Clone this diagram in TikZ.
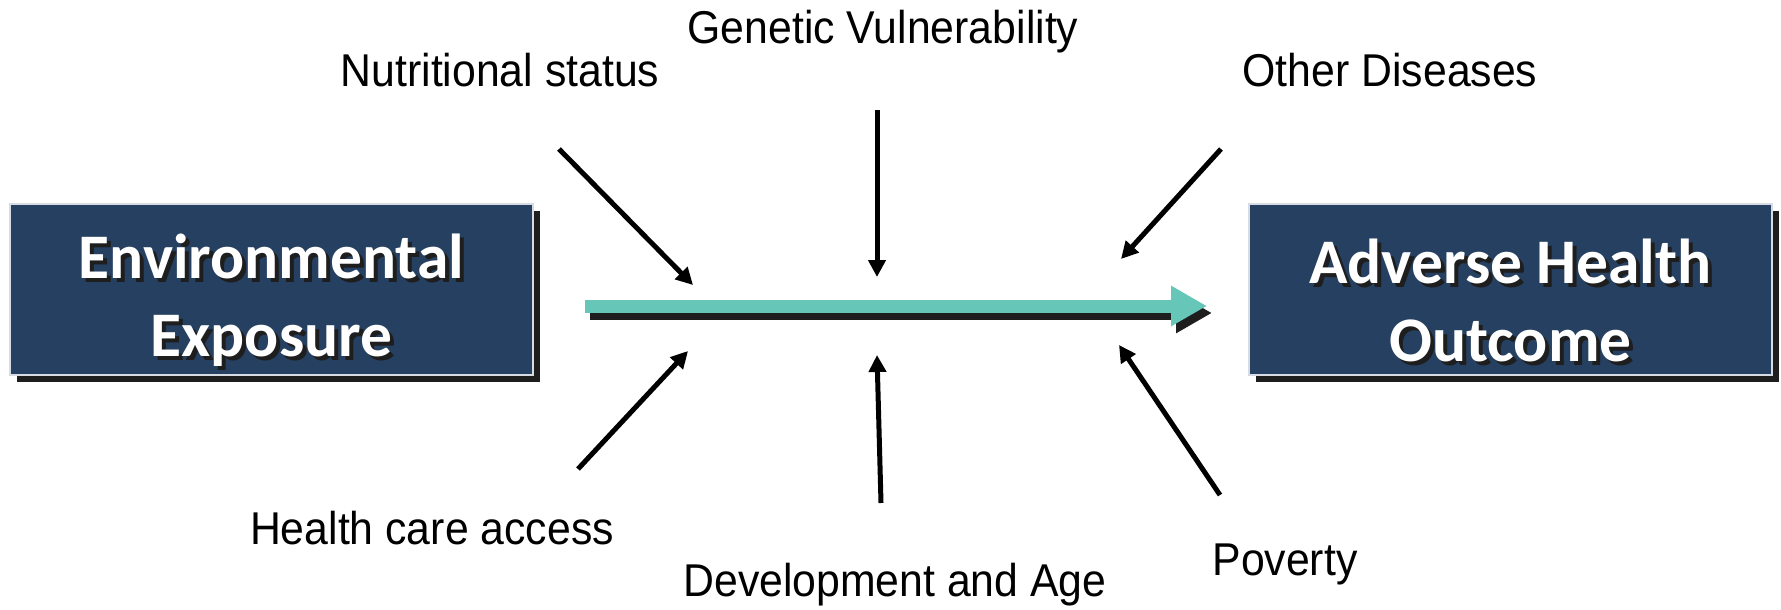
\documentclass[tikz,border=0pt]{standalone}
\usepackage{fontspec}
\setmainfont{Liberation Sans}
\newfontfamily\labelfont{Liberation Sans}[FakeStretch=0.93]
\newfontfamily\boxfont{Carlito}
\usetikzlibrary{arrows.meta,shadows}

\definecolor{boxblue}{RGB}{38,64,97}
\definecolor{flowteal}{RGB}{102,198,184}
\definecolor{boxedge}{RGB}{215,220,228}
\definecolor{shade}{RGB}{30,30,30}

% white box text with a dark offset copy behind it
\newcommand{\shadowline}[1]{\leavevmode\rlap{\kern4pt\raisebox{-4pt}{\color{shade}#1}}#1}

\tikzset{
  outcomebox/.style={rectangle, fill=boxblue, draw=boxedge, line width=1.5pt,
    minimum width=523pt, minimum height=171pt, inner sep=0pt,
    drop shadow={shadow xshift=7pt, shadow yshift=-7pt, fill=shade, opacity=1}},
  boxtext/.style={inner sep=0pt, text=white, align=center,
    font=\boxfont\bfseries\fontsize{63.5}{78}\selectfont},
  factor/.style={inner sep=0pt, font=\labelfont\fontsize{46}{52}\selectfont},
  influence/.style={draw=black, line width=5pt,
    -{Triangle[length=17pt,width=17pt]}},
  pathway/.style={draw=flowteal, line width=13pt,
    -{Triangle[length=36pt,width=38pt]}},
  pathshadow/.style={draw=shade, line width=13pt,
    -{Triangle[length=36pt,width=38pt]}},
}

\begin{document}
\begin{tikzpicture}[x=1pt, y=-1pt]
  \useasboundingbox (0,0) rectangle (1781,610);

  % the two end states
  \node[outcomebox] (env) at (271.5,289.5) {};
  \node[outcomebox] (out) at (1510.5,289.5) {};
  \node[boxtext] (envtext) at ([yshift=-13pt]env.center) {\shadowline{Environmental}\\\shadowline{Exposure}};
  \node[boxtext] (outtext) at ([yshift=-13pt]out.center) {\shadowline{Adverse Health}\\\shadowline{Outcome}};

  % modifying factors
  \node[factor] (nutr) at (500,70)  {Nutritional status};
  \node[factor] (gene) at (883,32)  {Genetic Vulnerability};
  \node[factor] (othr) at (1390,70) {Other Diseases};
  \node[factor] (care) at (432,528) {Health care access};
  \node[factor] (devl) at (895,585) {Development and Age};
  \node[factor] (pov)  at (1285,564) {Poverty};

  % exposure-to-outcome pathway
  \coordinate (ps) at (585,306);
  \coordinate (pe) at (1207,306);
  \draw[pathshadow] ([shift={(5,7)}]ps) -- ([shift={(5,7)}]pe);
  \draw[pathway] (ps) -- (pe);

  % influence arrows: tail near each factor, tip near the pathway
  \coordinate (nutrA) at (559,149);  \coordinate (nutrB) at (693,285);
  \coordinate (geneA) at (877,110);  \coordinate (geneB) at (877,277);
  \coordinate (othrA) at (1221,149); \coordinate (othrB) at (1121,259);
  \coordinate (careA) at (578,469);  \coordinate (careB) at (688,351);
  \coordinate (devlA) at (881,503);  \coordinate (devlB) at (877,355);
  \coordinate (povA)  at (1220,495); \coordinate (povB)  at (1119,345);

  \draw[influence] (nutrA) -- (nutrB);
  \draw[influence] (geneA) -- (geneB);
  \draw[influence] (othrA) -- (othrB);
  \draw[influence] (careA) -- (careB);
  \draw[influence] (devlA) -- (devlB);
  \draw[influence] (povA)  -- (povB);
\end{tikzpicture}
\end{document}
